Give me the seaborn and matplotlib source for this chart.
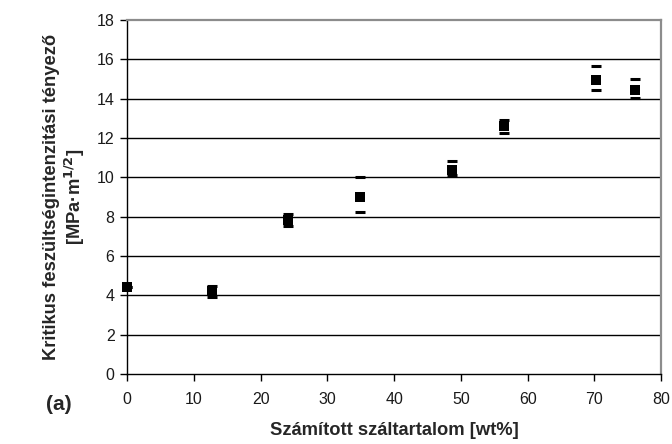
import numpy as np
import pandas as pd
import matplotlib
matplotlib.use("Agg")
import matplotlib.pyplot as plt
import seaborn as sns

# fibre content [wt%] and fracture toughness values
fiber = [0, 12.7, 24.1, 34.9, 48.7, 56.4, 70.2, 76.0]
kic = [4.42, 4.2, 7.82, 9.0, 10.37, 12.6, 14.95, 14.44]
err_low = [0.0, 0.28, 0.29, 0.75, 0.28, 0.33, 0.49, 0.42]
err_high = [0.0, 0.28, 0.29, 1.03, 0.47, 0.33, 0.73, 0.57]

x_ticks = [0, 10, 20, 30, 40, 50, 60, 70, 80]
y_ticks = [0, 2, 4, 6, 8, 10, 12, 14, 16, 18]

df = pd.DataFrame({"fiber": fiber, "kic": kic})

sns.set_theme(style="white")
plt.rcParams["font.family"] = ["Liberation Sans", "DejaVu Sans"]

fig = plt.figure(figsize=(6.72, 4.44), dpi=100)
ax = fig.add_axes([0.189, 0.158, 0.795, 0.797])

# horizontal gridlines
for yv in y_ticks[1:-1]:
    ax.axhline(yv, color="black", lw=1.0, zorder=0)

# error bar caps only
ax.errorbar(fiber, kic, yerr=[err_low, err_high], fmt="none", ecolor="black",
            elinewidth=0, capsize=3.6, capthick=2.2, zorder=2)

sns.scatterplot(data=df, x="fiber", y="kic", marker="s", s=58, color="black",
                edgecolor="black", linewidth=0, ax=ax, zorder=3, clip_on=False)

ax.set_xlim(0, 80)
ax.set_ylim(0, 18)
ax.set_xticks(x_ticks)
ax.set_yticks(y_ticks)
ax.tick_params(axis="both", direction="out", length=5, width=1, color="black",
               labelsize=11.5, labelcolor="#1a1a1a", pad=4)
ax.tick_params(axis="x", pad=8)
ax.tick_params(bottom=True, left=True)

for side in ["left", "bottom"]:
    ax.spines[side].set_color("black")
    ax.spines[side].set_linewidth(1.0)
for side in ["top", "right"]:
    ax.spines[side].set_color("#8c8c8c")
    ax.spines[side].set_linewidth(1.6)

ax.set_xlabel("Számított száltartalom [wt%]", fontsize=13.2, fontweight="bold",
              labelpad=11)
ax.set_ylabel("Kritikus feszültségintenzitási tényező\n[MPa·m$^{\\mathbf{1/2}}$]",
              fontsize=13.2, fontweight="bold", labelpad=7, linespacing=1.15)

fig.text(0.087, 0.088, "(a)", fontsize=15, fontweight="bold", ha="center",
         va="center")

fig.savefig("out.png", dpi=100)
